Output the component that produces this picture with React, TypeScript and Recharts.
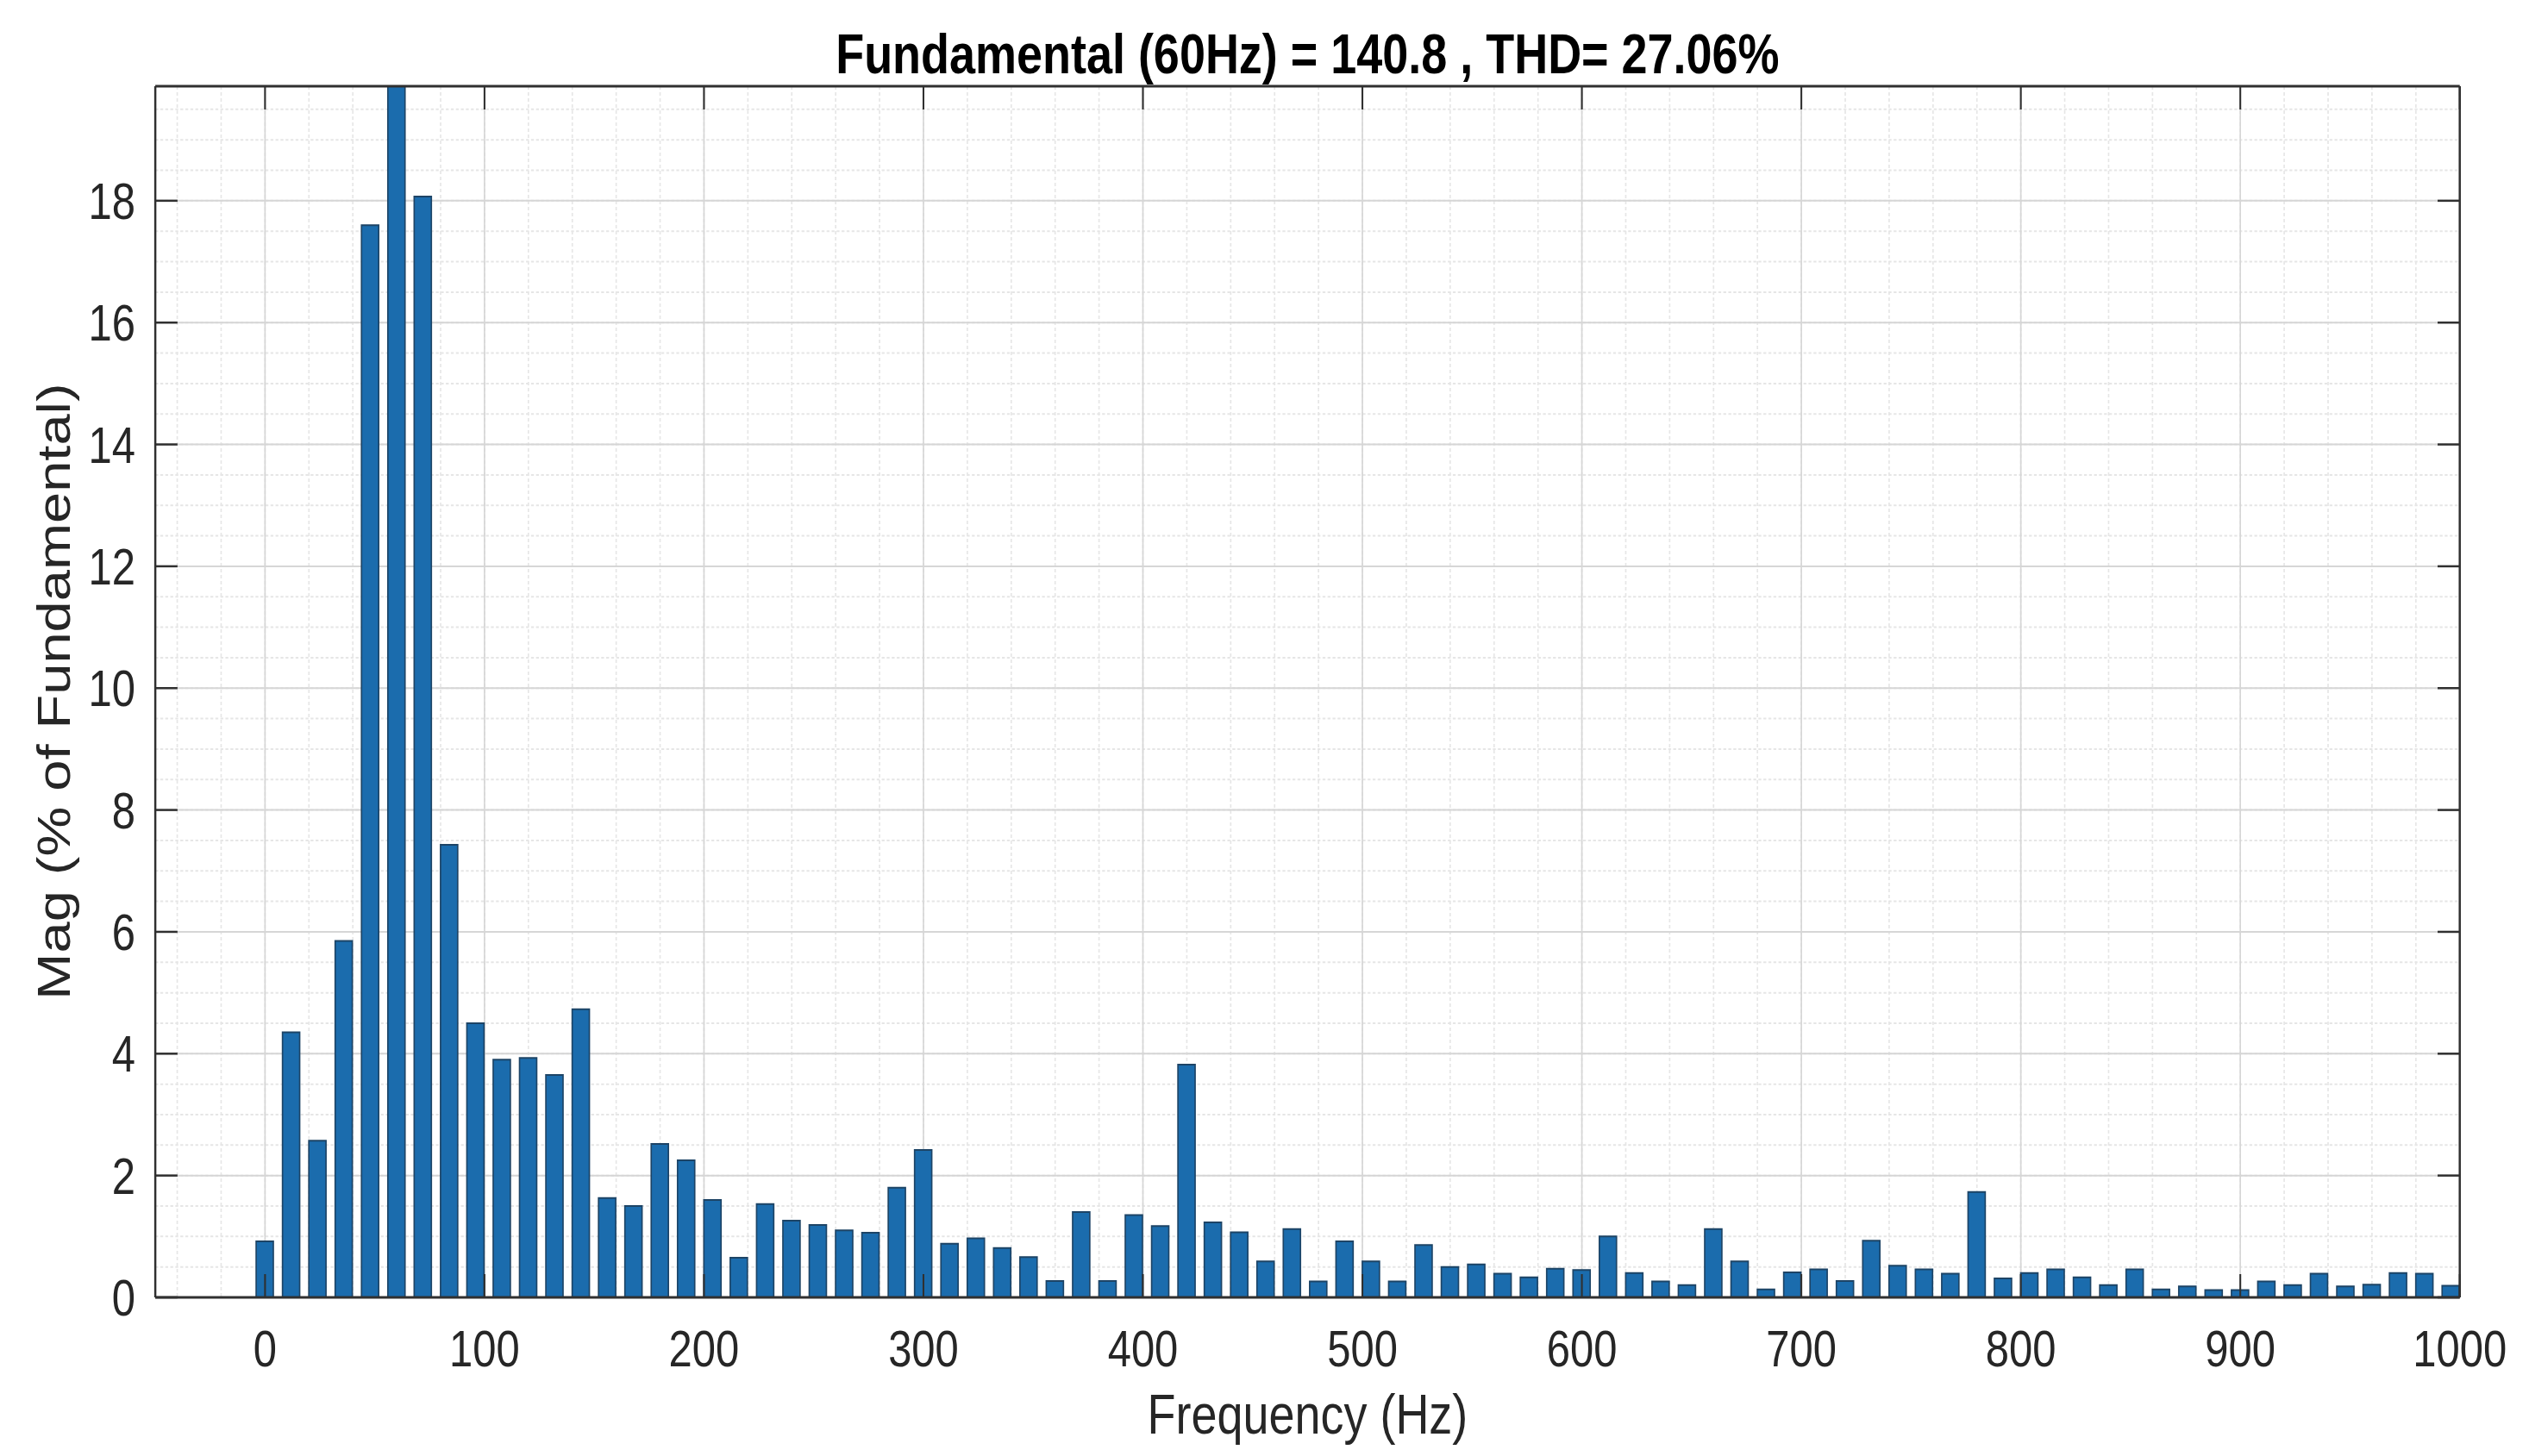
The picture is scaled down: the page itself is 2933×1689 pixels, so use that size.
import { Bar, BarChart, CartesianGrid, XAxis, YAxis } from 'recharts';

// harmonic spectrum, 12 Hz resolution
const freqs = [
  0, 12, 24, 36, 48, 60, 72, 84, 96, 108, 120, 132, 144, 156, 168, 180, 192,
  204, 216, 228, 240, 252, 264, 276, 288, 300, 312, 324, 336, 348, 360, 372,
  384, 396, 408, 420, 432, 444, 456, 468, 480, 492, 504, 516, 528, 540, 552,
  564, 576, 588, 600, 612, 624, 636, 648, 660, 672, 684, 696, 708, 720, 732,
  744, 756, 768, 780, 792, 804, 816, 828, 840, 852, 864, 876, 888, 900, 912,
  924, 936, 948, 960, 972, 984, 996,
];

// % of fundamental (the 60 Hz bar is the fundamental itself, clipped by the axis)
const mags = [
  0.92, 4.35, 2.57, 5.85, 17.6, 100, 18.07, 7.43, 4.5, 3.9, 3.93, 3.65, 4.73,
  1.63, 1.5, 2.52, 2.25, 1.6, 0.65, 1.53, 1.26, 1.19, 1.1, 1.06, 1.8, 2.42,
  0.88, 0.97, 0.81, 0.66, 0.27, 1.4, 0.27, 1.35, 1.17, 3.82, 1.23, 1.07, 0.59,
  1.12, 0.26, 0.92, 0.59, 0.26, 0.86, 0.5, 0.54, 0.39, 0.33, 0.47, 0.45, 1.0,
  0.4, 0.26, 0.2, 1.12, 0.59, 0.13, 0.41, 0.46, 0.27, 0.93, 0.52, 0.46, 0.39,
  1.73, 0.31, 0.4, 0.46, 0.33, 0.2, 0.46, 0.13, 0.18, 0.12, 0.12, 0.26, 0.2,
  0.39, 0.18, 0.21, 0.4, 0.39, 0.19,
];

const xTicks = [0, 100, 200, 300, 400, 500, 600, 700, 800, 900, 1000];
const yTicks = [0, 2, 4, 6, 8, 10, 12, 14, 16, 18];

const X_DOMAIN = [-50, 1000];
const Y_DOMAIN = [0, 19.88];

// minor grid: every 20 Hz / every 0.5 %
const minorX: number[] = [];
for (let v = -40; v <= 1000; v += 20) minorX.push(v);
const minorY: number[] = [];
for (let v = 0.5; v < 19.88; v += 0.5) minorY.push(v);

const data = freqs.map((f, i) => ({ f, mag: mags[i] }));

// the reference figure is squeezed horizontally, so draw wider and scale x
const SX = 0.83;
const W = Math.round(2933 / SX);
const H = 1689;
const PLOT_LEFT = 217;
const PLOT_RIGHT = W - 97;

const FONT = '"Liberation Sans", Arial, Helvetica, sans-serif';
const AXIS = '#303030';
const tickStyle = { fontSize: 59, fill: '#262626', fontFamily: FONT };
const noLabel = () => <g />;

export default function App() {
  return (
    <div style={{ width: 2933, height: H, overflow: 'hidden', background: '#fff' }}>
      <style>{'body{margin:0}'}</style>
      <div
        style={{
          position: 'relative',
          width: W,
          height: H,
          transform: `scaleX(${SX})`,
          transformOrigin: '0 0',
          fontFamily: FONT,
        }}
      >
        <BarChart
          width={W}
          height={H}
          data={data}
          margin={{ top: 99, right: 96, bottom: 64, left: 0 }}
        >
          <CartesianGrid
            xAxisId="minorX"
            yAxisId="minorY"
            stroke="#e6e6e6"
            strokeWidth={2}
            strokeDasharray="4 3"
          />
          <CartesianGrid stroke="#d6d6d6" strokeWidth={2} />

          <XAxis
            xAxisId="minorX"
            type="number"
            dataKey="f"
            domain={X_DOMAIN}
            ticks={minorX}
            allowDataOverflow
            hide
          />
          <YAxis
            yAxisId="minorY"
            type="number"
            domain={Y_DOMAIN}
            ticks={minorY}
            allowDataOverflow
            hide
          />

          <XAxis
            type="number"
            dataKey="f"
            domain={X_DOMAIN}
            ticks={xTicks}
            allowDataOverflow
            interval={0}
            height={120}
            tickSize={-27}
            tickMargin={65}
            axisLine={{ stroke: AXIS, strokeWidth: 3 }}
            tickLine={{ stroke: AXIS, strokeWidth: 2.5 }}
            tick={tickStyle}
          />
          <XAxis
            xAxisId="top"
            orientation="top"
            type="number"
            dataKey="f"
            domain={X_DOMAIN}
            ticks={xTicks}
            allowDataOverflow
            interval={0}
            height={1}
            tickSize={-27}
            axisLine={{ stroke: AXIS, strokeWidth: 3 }}
            tickLine={{ stroke: AXIS, strokeWidth: 2.5 }}
            tick={noLabel}
          />
          <YAxis
            type="number"
            domain={Y_DOMAIN}
            ticks={yTicks}
            allowDataOverflow
            interval={0}
            width={PLOT_LEFT}
            tickSize={-31}
            tickMargin={59}
            axisLine={{ stroke: AXIS, strokeWidth: 3 }}
            tickLine={{ stroke: AXIS, strokeWidth: 2.5 }}
            tick={tickStyle}
          />
          <YAxis
            yAxisId="right"
            orientation="right"
            type="number"
            domain={Y_DOMAIN}
            ticks={yTicks}
            allowDataOverflow
            interval={0}
            width={1}
            tickSize={-31}
            axisLine={{ stroke: AXIS, strokeWidth: 3 }}
            tickLine={{ stroke: AXIS, strokeWidth: 2.5 }}
            tick={noLabel}
          />

          <Bar
            dataKey="mag"
            barSize={24}
            fill="#1b6cad"
            stroke="#1d4466"
            strokeWidth={2}
            isAnimationActive={false}
          />
        </BarChart>

        <div
          style={{
            position: 'absolute',
            left: PLOT_LEFT,
            width: PLOT_RIGHT - PLOT_LEFT,
            top: 30,
            textAlign: 'center',
            fontSize: 65,
            lineHeight: '65px',
            fontWeight: 'bold',
            color: '#000',
            whiteSpace: 'nowrap',
          }}
        >
          Fundamental (60Hz) = 140.8 , THD= 27.06%
        </div>

        <div
          style={{
            position: 'absolute',
            left: PLOT_LEFT,
            width: PLOT_RIGHT - PLOT_LEFT,
            top: 1608,
            textAlign: 'center',
            fontSize: 65,
            lineHeight: '65px',
            color: '#262626',
            whiteSpace: 'nowrap',
          }}
        >
          Frequency (Hz)
        </div>

        <div
          style={{
            position: 'absolute',
            left: 75,
            top: 802,
            transform: 'translate(-50%, -50%) rotate(-90deg)',
            fontSize: 65,
            lineHeight: '65px',
            color: '#262626',
            whiteSpace: 'nowrap',
          }}
        >
          Mag (% of Fundamental)
        </div>
      </div>
    </div>
  );
}
